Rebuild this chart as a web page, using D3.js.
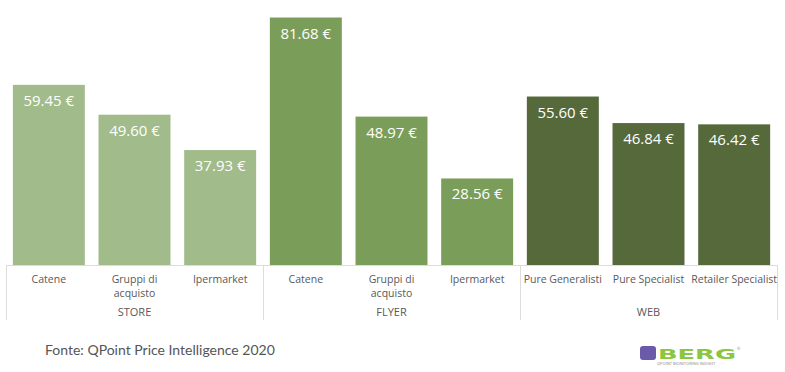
<!DOCTYPE html>
<html>
<head>
<meta charset="utf-8">
<script src="https://d3js.org/d3.v7.min.js"></script>
<style>
  body { margin: 0; background: #fff; }
  svg text { font-family: "Open Sans", "Liberation Sans", sans-serif; }
</style>
</head>
<body>
<div id="chart"></div>
<script>
// data
var categories = ["Catene", "Gruppi di|acquisto", "Ipermarket",
                  "Catene", "Gruppi di|acquisto", "Ipermarket",
                  "Pure Generalisti", "Pure Specialist", "Retailer Specialist"];
var groups = ["STORE", "STORE", "STORE", "FLYER", "FLYER", "FLYER", "WEB", "WEB", "WEB"];
var values = [59.45, 49.60, 37.93, 81.68, 48.97, 28.56, 55.60, 46.84, 46.42];
var groupNames = ["STORE", "FLYER", "WEB"];
var groupColors = ["#a1bb8a", "#7a9e5a", "#55693a"];

var W = 785, H = 372;
var left = 6, right = 777, base = 265;

var svg = d3.select("#chart").append("svg").attr("width", W).attr("height", H);

var x = d3.scaleBand().domain(d3.range(values.length)).range([left, right]).paddingInner(0.16).paddingOuter(0.08);
var y = d3.scaleLinear().domain([0, 81.68]).range([base, 17.5]);
var color = d3.scaleOrdinal().domain(groupNames).range(groupColors);

// bars
svg.selectAll("rect.bar").data(values).enter().append("rect")
  .attr("class", "bar")
  .attr("x", function(d, i) { return x(i); })
  .attr("y", function(d) { return y(d); })
  .attr("width", x.bandwidth())
  .attr("height", function(d) { return base - y(d); })
  .attr("fill", function(d, i) { return color(groups[i]); });

// value labels
svg.selectAll("text.val").data(values).enter().append("text")
  .attr("class", "val")
  .attr("x", function(d, i) { return x(i) + x.bandwidth() / 2; })
  .attr("y", function(d) { return y(d) + 21; })
  .attr("text-anchor", "middle")
  .attr("fill", "#fff")
  .style("font-size", "15px")
  .text(function(d) { return d.toFixed(2) + " €"; });

// axis lines
var axisCol = "#dcdcdc";
svg.append("line").attr("x1", left).attr("x2", right).attr("y1", base + 0.5).attr("y2", base + 0.5)
  .attr("stroke", axisCol);

var step = x.step();
var bounds = [0, 3, 6, 9].map(function(k) {
  return k === 0 ? left : (k === 9 ? right : x(k) - step * x.paddingInner() / 2);
});
bounds.forEach(function(b) {
  svg.append("line").attr("x1", Math.round(b) + 0.5).attr("x2", Math.round(b) + 0.5)
    .attr("y1", base).attr("y2", 320).attr("stroke", axisCol);
});

// category labels
var catText = svg.selectAll("text.cat").data(categories).enter().append("text")
  .attr("class", "cat")
  .attr("text-anchor", "middle")
  .attr("fill", "#595959")
  .style("font-size", "10.5px");
catText.each(function(d, i) {
  var t = d3.select(this);
  d.split("|").forEach(function(line, j) {
    t.append("tspan").attr("x", x(i) + x.bandwidth() / 2).attr("y", 283 + j * 14).text(line);
  });
});

// group labels
groupNames.forEach(function(g, k) {
  svg.append("text")
    .attr("x", (bounds[k] + bounds[k + 1]) / 2)
    .attr("y", 316)
    .attr("text-anchor", "middle")
    .attr("fill", "#595959")
    .style("font-size", "11px")
    .text(g);
});

// footer
svg.append("text").attr("x", 45).attr("y", 355)
  .attr("fill", "#555")
  .style("font-family", "Lato, sans-serif")
  .style("font-size", "14px")
  .text("Fonte: QPoint Price Intelligence 2020");

// logo
var logo = svg.append("g").attr("transform", "translate(640,346)");
logo.append("rect").attr("x", 0).attr("y", 0).attr("width", 16).attr("height", 14).attr("rx", 3).attr("fill", "#6b5aa8");
logo.append("text").attr("x", 18).attr("y", 13).attr("fill", "#8cc63f")
  .style("font-family", "DejaVu Sans, sans-serif").style("font-size", "14px").style("font-weight", "bold")
  .attr("textLength", 78).attr("lengthAdjust", "spacingAndGlyphs").text("BERG");
logo.append("text").attr("x", 17).attr("y", 19).attr("fill", "#888")
  .style("font-size", "4px").text("QPOINT MONITORING INSIGHT");
logo.append("text").attr("x", 97).attr("y", 4).attr("fill", "#888")
  .style("font-size", "4px").text("®");
</script>
</body>
</html>
